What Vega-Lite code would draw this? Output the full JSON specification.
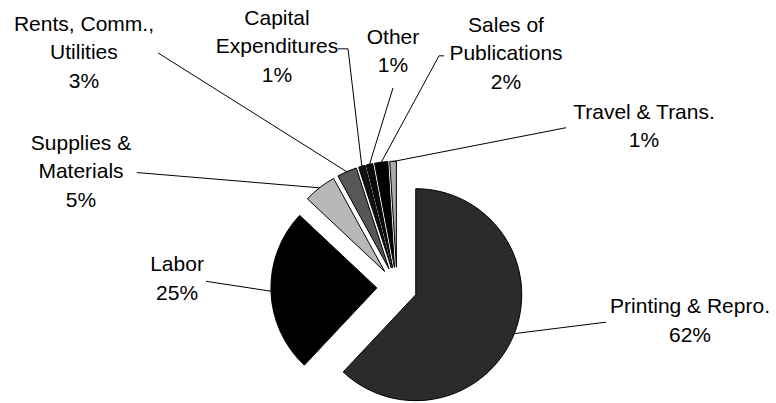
{
  "$schema": "https://vega.github.io/schema/vega-lite/v6.json",
  "width": 776,
  "height": 403,
  "autosize": {"type": "fit", "contains": "padding"},
  "padding": 0,
  "background": "white",
  "config": {"view": {"stroke": null}, "font": "Liberation Sans"},
  "datasets": {
    "slices": [
      {"category": "Printing & Repro.", "pct": 62, "order": 1},
      {"category": "Labor", "pct": 25, "order": 2},
      {"category": "Supplies & Materials", "pct": 5, "order": 3},
      {"category": "Rents, Comm., Utilities", "pct": 3, "order": 4},
      {"category": "Capital Expenditures", "pct": 1, "order": 5},
      {"category": "Other", "pct": 1, "order": 6},
      {"category": "Sales of Publications", "pct": 2, "order": 7},
      {"category": "Travel & Trans.", "pct": 1, "order": 8}
    ],
    "labels": [
      {"category": "Printing & Repro.", "text": "Printing & Repro.", "labelX": 276.4, "labelY": -18.9, "lineX": 197.2, "lineY": -33.0},
      {"category": "Labor", "text": "Labor", "labelX": -207.5, "labelY": 20.8, "lineX": -180.2, "lineY": 5.7},
      {"category": "Supplies & Materials", "text": "Supplies &\nMaterials", "labelX": -298.1, "labelY": 135.8, "lineX": -245.3, "lineY": 108.5},
      {"category": "Rents, Comm., Utilities", "text": "Rents, Comm.,\nUtilities", "labelX": -295.3, "labelY": 248.1, "lineX": -225.5, "lineY": 221.7},
      {"category": "Capital Expenditures", "text": "Capital\nExpenditures", "labelX": -113.2, "labelY": 253.8, "lineX": -55.7, "lineY": 225.5, "bendX": -46.2, "bendY": 225.5},
      {"category": "Other", "text": "Other", "labelX": -3.8, "labelY": 235.8, "lineX": -3.8, "lineY": 188.5},
      {"category": "Sales of Publications", "text": "Sales of\nPublications", "labelX": 102.8, "labelY": 247.2, "lineX": 44.3, "lineY": 218.9, "bendX": 39.6, "bendY": 218.9},
      {"category": "Travel & Trans.", "text": "Travel & Trans.", "labelX": 233.0, "labelY": 165.1, "lineX": 159.4, "lineY": 150.9}
    ]
  },
  "data": {"name": "slices"},
  "transform": [
    {"window": [{"op": "sum", "field": "pct", "as": "t1"}], "sort": [{"field": "order", "order": "ascending"}], "frame": [null, 0]},
    {"calculate": "datum.t1 - datum.pct", "as": "t0"},
    {"calculate": "PI * (datum.t0 + datum.t1) / 100", "as": "mid"},
    {"calculate": "19 * sin(datum.mid)", "as": "cx"},
    {"calculate": "19 * cos(datum.mid)", "as": "cy"},
    {"calculate": "datum.cx + 100 * sin(datum.mid)", "as": "ex"},
    {"calculate": "datum.cy + 100 * cos(datum.mid)", "as": "ey"},
    {"lookup": "category", "from": {"data": {"name": "labels"}, "key": "category", "fields": ["text", "labelX", "labelY", "lineX", "lineY", "bendX", "bendY"]}},
    {"calculate": "datum.text + '\\n' + datum.pct + '%'", "as": "fullLabel"},
    {"calculate": "isValid(datum.bendX) ? datum.bendX : datum.lineX", "as": "bx"},
    {"calculate": "isValid(datum.bendY) ? datum.bendY : datum.lineY", "as": "by"}
  ],
  "layer": [
    {
      "mark": {"type": "arc", "radius": 106, "stroke": "black", "strokeWidth": 1},
      "encoding": {
        "x": {"field": "cx", "type": "quantitative", "scale": {"domain": [-374.5, 357.5], "nice": false, "zero": false}, "axis": null},
        "y": {"field": "cy", "type": "quantitative", "scale": {"domain": [-108.5, 271.7], "nice": false, "zero": false}, "axis": null},
        "theta": {"field": "t0", "type": "quantitative", "scale": {"domain": [0, 100]}, "stack": null},
        "theta2": {"field": "t1"},
        "color": {
          "field": "category",
          "type": "nominal",
          "scale": {
            "domain": ["Printing & Repro.", "Labor", "Supplies & Materials", "Rents, Comm., Utilities", "Capital Expenditures", "Other", "Sales of Publications", "Travel & Trans."],
            "range": ["#2b2b2b", "#000000", "#b8b8b8", "#575757", "#111111", "#0a0a0a", "#000000", "#ababab"]
          },
          "legend": null
        }
      }
    },
    {
      "mark": {"type": "rule", "color": "black", "strokeWidth": 1},
      "encoding": {
        "x": {"field": "ex", "type": "quantitative"},
        "y": {"field": "ey", "type": "quantitative"},
        "x2": {"field": "bx"},
        "y2": {"field": "by"}
      }
    },
    {
      "transform": [{"filter": "isValid(datum.bendX)"}],
      "mark": {"type": "rule", "color": "black", "strokeWidth": 1},
      "encoding": {
        "x": {"field": "bendX", "type": "quantitative"},
        "y": {"field": "bendY", "type": "quantitative"},
        "x2": {"field": "lineX"},
        "y2": {"field": "lineY"}
      }
    },
    {
      "mark": {"type": "text", "fontSize": 21, "lineBreak": "\n", "lineHeight": 28.5, "align": "center", "baseline": "middle", "font": "Liberation Sans", "color": "black"},
      "encoding": {
        "x": {"field": "labelX", "type": "quantitative"},
        "y": {"field": "labelY", "type": "quantitative"},
        "text": {"field": "fullLabel"}
      }
    }
  ]
}
